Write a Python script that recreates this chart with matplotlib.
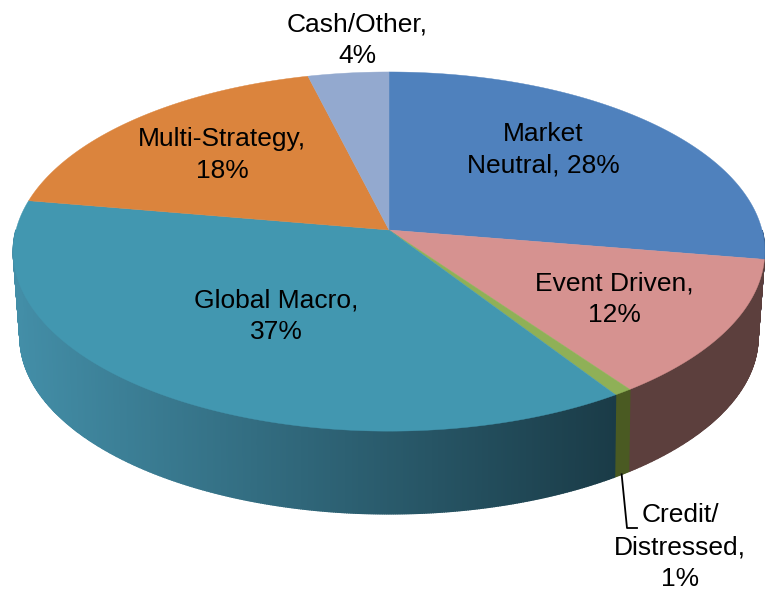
import numpy as np
import matplotlib
matplotlib.use("Agg")
import matplotlib.pyplot as plt
from matplotlib.colors import to_rgb

# clockwise from 12 o'clock
labels = ["Market\nNeutral, 28%", "Event Driven,\n12%", "Credit/\nDistressed,\n1%",
          "Global Macro,\n37%", "Multi-Strategy,\n18%", "Cash/Other,\n4%"]
shares = [27.6, 12.5, 0.7, 36.9, 18.4, 3.9]
top_colors = ["#4f81bd", "#d69290", "#8fb057", "#4297b0", "#db843d", "#93a9cf"]
side_left = ["#3a5f8c", "#5c3f3d", "#4a5a22", "#428ca5", "#a36230", "#6d7e9a"]
side_right = ["#3a5f8c", "#5c3f3d", "#4a5a22", "#1a3b47", "#a36230", "#6d7e9a"]
label_xy = [(543, 150), (614, 299), (680, 547), (276, 316), (222, 155), (357, 40)]

# fake 3d pie, circle pushed through a perspective
CX, CY, A, B = 389, 230, 373, 177
K_TOP, K_BOTTOM = 0.12, 0.1366
BOTTOM_SCALE, BOTTOM_CY = 0.98, 313


def project(theta, k):
    w = 1 + k * np.cos(theta)
    return A * np.sin(theta) / w, B * np.cos(theta) / w


def top_edge(theta):
    x, y = project(theta, K_TOP)
    return CX + x, CY - y


def bottom_edge(theta):
    x, y = project(theta, K_BOTTOM)
    return CX + x * BOTTOM_SCALE, BOTTOM_CY - y * BOTTOM_SCALE


def mix(c1, c2, t):
    c1, c2 = np.array(to_rgb(c1)), np.array(to_rgb(c2))
    return tuple(c1 + (c2 - c1) * t)


fig = plt.figure(figsize=(7.65, 5.9), dpi=100)
ax = fig.add_axes([0, 0, 1, 1])
ax.set_xlim(0, 765)
ax.set_ylim(590, 0)
ax.axis("off")

edges = np.cumsum([0] + shares) / sum(shares) * 2 * np.pi

# side wall first
for i in range(len(shares)):
    n = max(3, int(shares[i] * 12))
    thetas = np.linspace(edges[i], edges[i + 1], n)
    x0 = top_edge(thetas[-1])[0]
    x1 = top_edge(thetas[0])[0]
    for a, b in zip(thetas[:-1], thetas[1:]):
        if np.cos((a + b) / 2) > 0:
            continue
        xa, ya = top_edge(a)
        xb, yb = top_edge(b)
        xc, yc = bottom_edge(b)
        xd, yd = bottom_edge(a)
        t = ((xa + xb) / 2 - min(x0, x1)) / max(abs(x1 - x0), 1)
        col = mix(side_left[i], side_right[i], t)
        ax.fill([xa, xb, xc, xd], [ya, yb, yc, yd], color=col, lw=1, zorder=2)

# top face
for i in range(len(shares)):
    thetas = np.linspace(edges[i], edges[i + 1], 200)
    x, y = top_edge(thetas)
    ax.fill(np.r_[CX, x], np.r_[CY, y], color=top_colors[i], lw=0.3, zorder=3)

for lab, (x, y) in zip(labels, label_xy):
    ax.text(x, y, lab, ha="center", va="center", fontsize=19,
            family="Liberation Sans", color="black", linespacing=1.42, zorder=5)

# leader line for the Credit slice
mid = (edges[2] + edges[3]) / 2
lx, ly = bottom_edge(mid)
ax.plot([lx, 627, 637], [ly, 528, 528], color="black", lw=1.3, zorder=4)

fig.savefig("out.png", dpi=100)
